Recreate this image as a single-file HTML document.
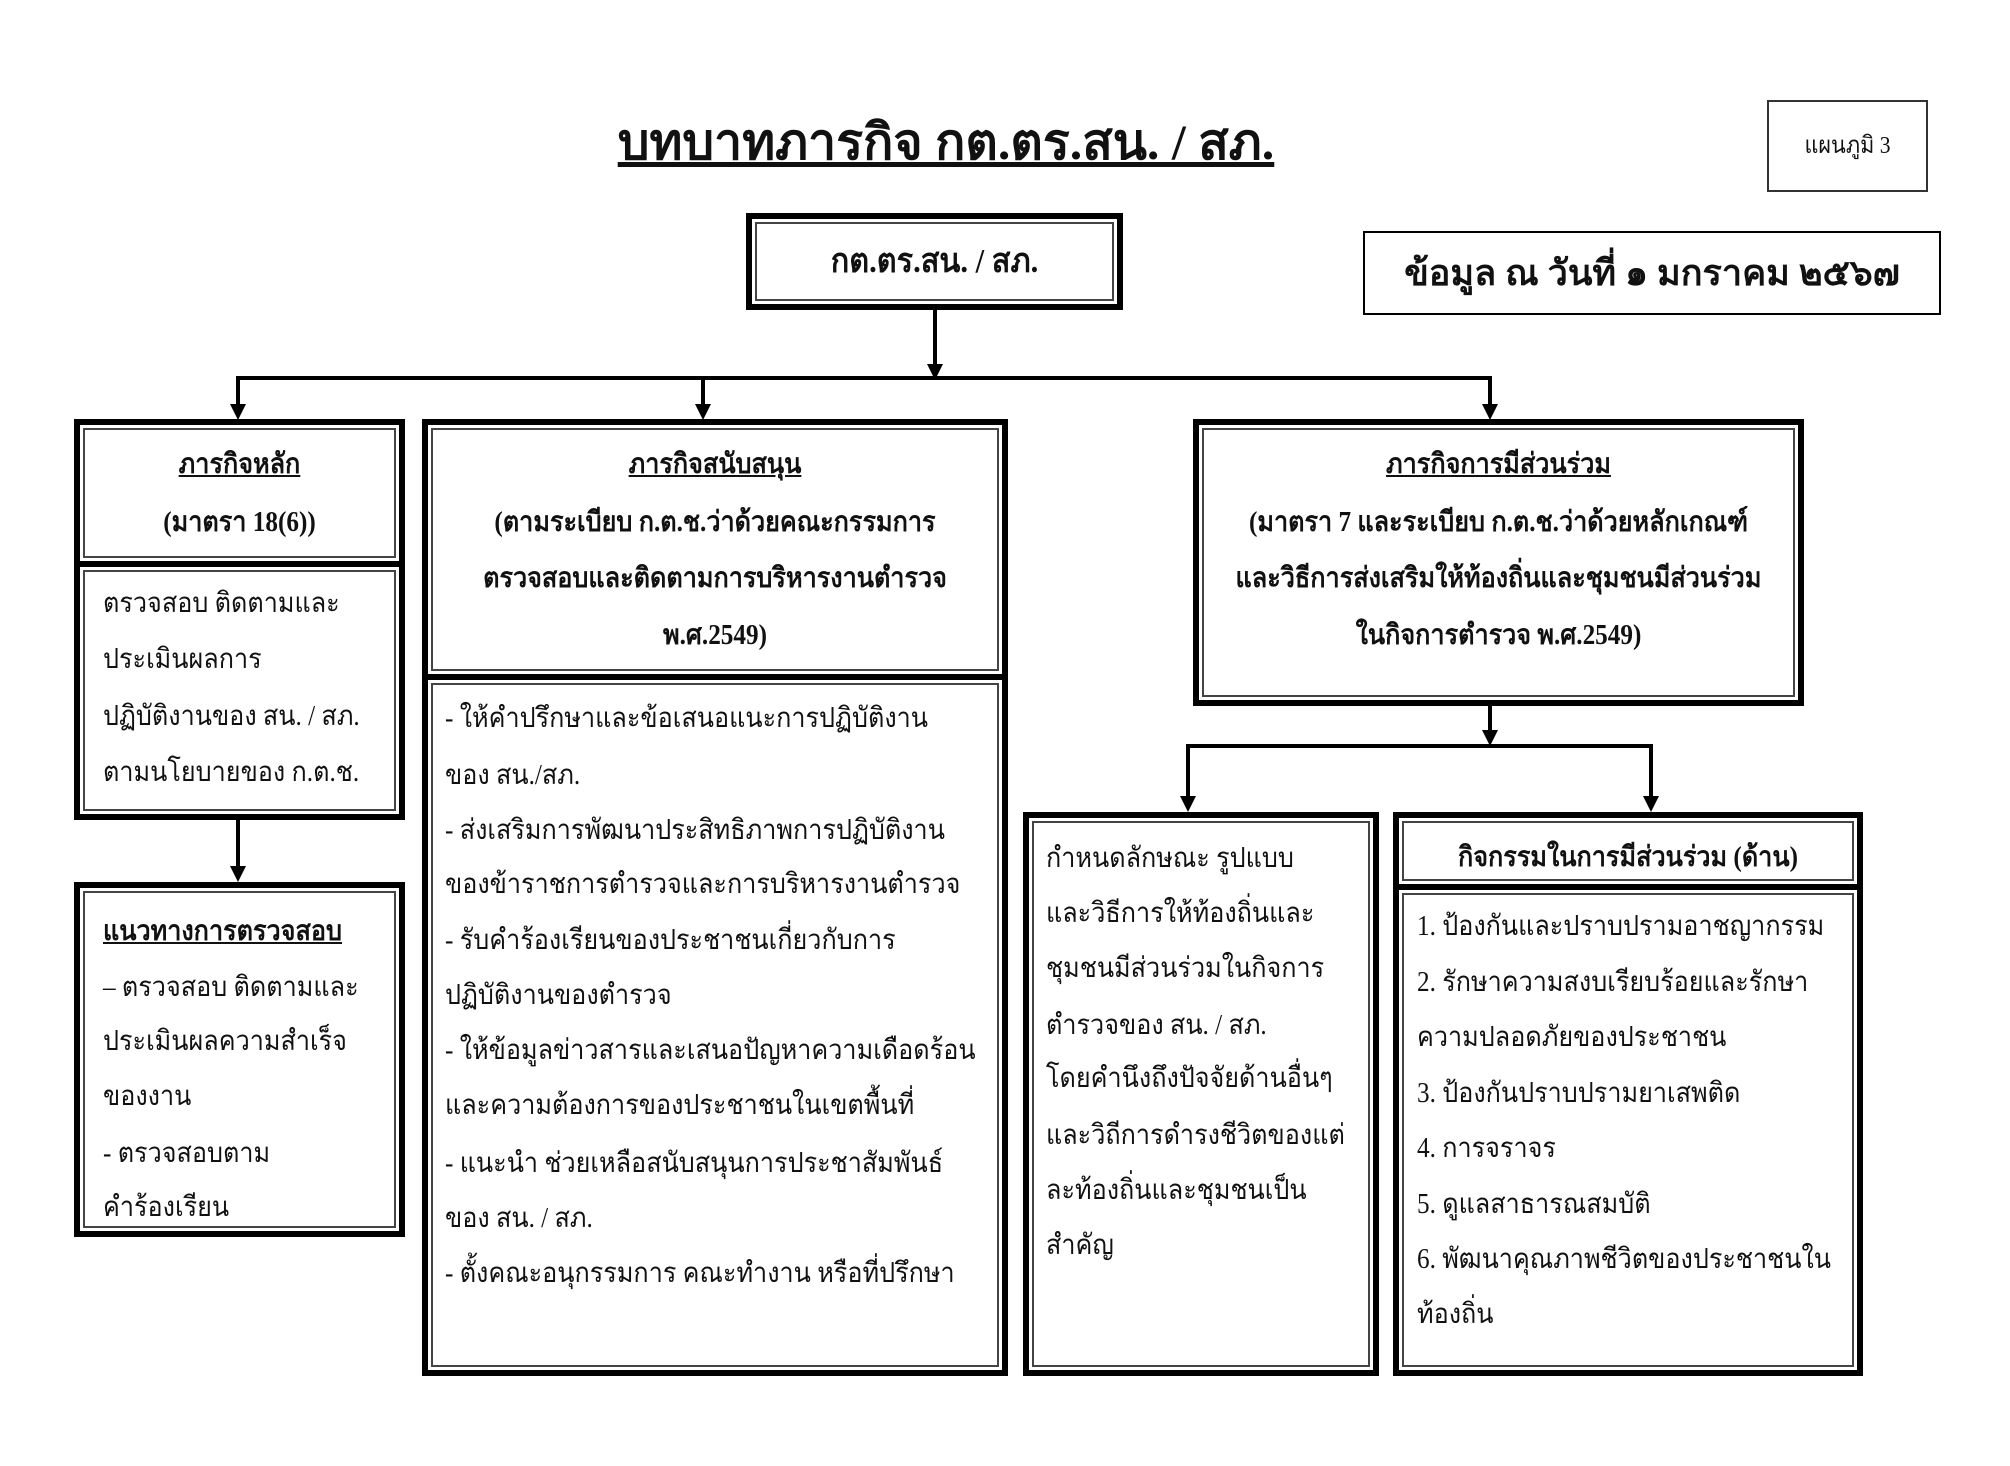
<!DOCTYPE html>
<html><head><meta charset="utf-8">
<style>
html,body{margin:0;padding:0;background:#fff;}
body{width:2010px;height:1466px;position:relative;overflow:hidden;font-family:"Liberation Serif","DejaVu Sans",serif;color:#111;}
.b{position:absolute;box-sizing:border-box;border:6px solid #000;box-shadow:inset 0 0 0 3px #fff,inset 0 0 0 5px #444;background:#fff;}
.t{position:absolute;white-space:nowrap;font-size:28px;line-height:56px;height:56px;transform:scaleX(0.9);transform-origin:left center;}
.c{text-align:center;transform-origin:center center;}
.bold{font-weight:bold;}
.u{text-decoration:underline;}
.l{position:absolute;background:#000;}
.ah{position:absolute;width:0;height:0;border-left:8px solid transparent;border-right:8px solid transparent;border-top:16px solid #000;}
</style></head><body>

<div class="t c bold u" style="left:446px;width:1000px;top:110px;font-size:50px;line-height:64px;height:64px;transform:none;">บทบาทภารกิจ กต.ตร.สน. / สภ.</div>

<div style="position:absolute;left:1767px;top:100px;width:161px;height:92px;border:2px solid #333;box-sizing:border-box;"></div>
<div class="t c" style="left:1767px;width:161px;top:118px;font-size:24px;">แผนภูมิ 3</div>

<div style="position:absolute;left:1363px;top:231px;width:578px;height:84px;border:2px solid #000;box-sizing:border-box;"></div>
<div class="t c bold" style="left:1363px;width:578px;top:245px;font-size:36px;transform:none;">ข้อมูล ณ วันที่ ๑ มกราคม ๒๕๖๗</div>

<div class="b" style="left:746px;top:213px;width:377px;height:97px;"></div>
<div class="t c bold" style="left:746px;width:377px;top:234px;font-size:34px;">กต.ตร.สน. / สภ.</div>

<!-- connectors -->
<div class="l" style="left:933px;top:310px;width:4px;height:58px;"></div>
<div class="ah" style="left:927px;top:364px;"></div>
<div class="l" style="left:236px;top:376px;width:1256px;height:4px;"></div>
<div class="l" style="left:236px;top:376px;width:4px;height:30px;"></div>
<div class="ah" style="left:230px;top:404px;"></div>
<div class="l" style="left:701px;top:376px;width:4px;height:30px;"></div>
<div class="ah" style="left:695px;top:404px;"></div>
<div class="l" style="left:1488px;top:376px;width:4px;height:30px;"></div>
<div class="ah" style="left:1482px;top:404px;"></div>

<div class="l" style="left:236px;top:820px;width:4px;height:48px;"></div>
<div class="ah" style="left:230px;top:866px;"></div>

<div class="l" style="left:1488px;top:706px;width:4px;height:30px;"></div>
<div class="ah" style="left:1482px;top:730px;"></div>
<div class="l" style="left:1186px;top:744px;width:467px;height:4px;"></div>
<div class="l" style="left:1186px;top:744px;width:4px;height:54px;"></div>
<div class="ah" style="left:1180px;top:796px;"></div>
<div class="l" style="left:1649px;top:744px;width:4px;height:54px;"></div>
<div class="ah" style="left:1643px;top:796px;"></div>

<!-- box1 -->
<div class="b" style="left:74px;top:419px;width:331px;height:148px;"></div>
<div class="b" style="left:74px;top:561px;width:331px;height:259px;"></div>
<div class="t c bold u" style="left:74px;width:331px;top:437px;">ภารกิจหลัก</div>
<div class="t c bold" style="left:74px;width:331px;top:495px;">(มาตรา 18(6))</div>
<div class="t" style="left:103px;top:576px;">ตรวจสอบ ติดตามและ</div>
<div class="t" style="left:103px;top:632px;">ประเมินผลการ</div>
<div class="t" style="left:103px;top:689px;">ปฏิบัติงานของ สน. / สภ.</div>
<div class="t" style="left:103px;top:745px;">ตามนโยบายของ ก.ต.ช.</div>

<div class="b" style="left:74px;top:882px;width:331px;height:355px;"></div>
<div class="t bold u" style="left:103px;top:904px;">แนวทางการตรวจสอบ</div>
<div class="t" style="left:103px;top:960px;">– ตรวจสอบ ติดตามและ</div>
<div class="t" style="left:103px;top:1014px;">ประเมินผลความสำเร็จ</div>
<div class="t" style="left:103px;top:1069px;">ของงาน</div>
<div class="t" style="left:103px;top:1126px;">- ตรวจสอบตาม</div>
<div class="t" style="left:103px;top:1180px;">คำร้องเรียน</div>

<!-- box2 -->
<div class="b" style="left:422px;top:419px;width:586px;height:261px;"></div>
<div class="b" style="left:422px;top:674px;width:586px;height:702px;"></div>
<div class="t c bold u" style="left:422px;width:586px;top:437px;">ภารกิจสนับสนุน</div>
<div class="t c bold" style="left:422px;width:586px;top:495px;">(ตามระเบียบ ก.ต.ช.ว่าด้วยคณะกรรมการ</div>
<div class="t c bold" style="left:422px;width:586px;top:551px;">ตรวจสอบและติดตามการบริหารงานตำรวจ</div>
<div class="t c bold" style="left:422px;width:586px;top:608px;">พ.ศ.2549)</div>
<div class="t" style="left:445px;top:691px;">- ให้คำปรึกษาและข้อเสนอแนะการปฏิบัติงาน</div>
<div class="t" style="left:445px;top:748px;">ของ สน./สภ.</div>
<div class="t" style="left:445px;top:803px;">- ส่งเสริมการพัฒนาประสิทธิภาพการปฏิบัติงาน</div>
<div class="t" style="left:445px;top:857px;">ของข้าราชการตำรวจและการบริหารงานตำรวจ</div>
<div class="t" style="left:445px;top:913px;">- รับคำร้องเรียนของประชาชนเกี่ยวกับการ</div>
<div class="t" style="left:445px;top:968px;">ปฏิบัติงานของตำรวจ</div>
<div class="t" style="left:445px;top:1023px;">- ให้ข้อมูลข่าวสารและเสนอปัญหาความเดือดร้อน</div>
<div class="t" style="left:445px;top:1078px;">และความต้องการของประชาชนในเขตพื้นที่</div>
<div class="t" style="left:445px;top:1136px;">- แนะนำ ช่วยเหลือสนับสนุนการประชาสัมพันธ์</div>
<div class="t" style="left:445px;top:1191px;">ของ สน. / สภ.</div>
<div class="t" style="left:445px;top:1246px;">- ตั้งคณะอนุกรรมการ คณะทำงาน หรือที่ปรึกษา</div>

<!-- box3 -->
<div class="b" style="left:1193px;top:419px;width:611px;height:287px;"></div>
<div class="t c bold u" style="left:1193px;width:611px;top:437px;">ภารกิจการมีส่วนร่วม</div>
<div class="t c bold" style="left:1193px;width:611px;top:495px;">(มาตรา 7 และระเบียบ ก.ต.ช.ว่าด้วยหลักเกณฑ์</div>
<div class="t c bold" style="left:1193px;width:611px;top:551px;">และวิธีการส่งเสริมให้ท้องถิ่นและชุมชนมีส่วนร่วม</div>
<div class="t c bold" style="left:1193px;width:611px;top:608px;">ในกิจการตำรวจ พ.ศ.2549)</div>

<!-- box4 -->
<div class="b" style="left:1023px;top:812px;width:356px;height:564px;"></div>
<div class="t" style="left:1046px;top:831px;">กำหนดลักษณะ รูปแบบ</div>
<div class="t" style="left:1046px;top:886px;">และวิธีการให้ท้องถิ่นและ</div>
<div class="t" style="left:1046px;top:941px;">ชุมชนมีส่วนร่วมในกิจการ</div>
<div class="t" style="left:1046px;top:998px;">ตำรวจของ สน. / สภ.</div>
<div class="t" style="left:1046px;top:1051px;">โดยคำนึงถึงปัจจัยด้านอื่นๆ</div>
<div class="t" style="left:1046px;top:1108px;">และวิถีการดำรงชีวิตของแต่</div>
<div class="t" style="left:1046px;top:1163px;">ละท้องถิ่นและชุมชนเป็น</div>
<div class="t" style="left:1046px;top:1218px;">สำคัญ</div>

<!-- box5 -->
<div class="b" style="left:1393px;top:812px;width:470px;height:78px;"></div>
<div class="b" style="left:1393px;top:884px;width:470px;height:492px;"></div>
<div class="t c bold" style="left:1393px;width:470px;top:830px;">กิจกรรมในการมีส่วนร่วม (ด้าน)</div>
<div class="t" style="left:1417px;top:899px;">1. ป้องกันและปราบปรามอาชญากรรม</div>
<div class="t" style="left:1417px;top:955px;">2. รักษาความสงบเรียบร้อยและรักษา</div>
<div class="t" style="left:1417px;top:1010px;">ความปลอดภัยของประชาชน</div>
<div class="t" style="left:1417px;top:1066px;">3. ป้องกันปราบปรามยาเสพติด</div>
<div class="t" style="left:1417px;top:1121px;">4. การจราจร</div>
<div class="t" style="left:1417px;top:1177px;">5. ดูแลสาธารณสมบัติ</div>
<div class="t" style="left:1417px;top:1232px;">6. พัฒนาคุณภาพชีวิตของประชาชนใน</div>
<div class="t" style="left:1417px;top:1287px;">ท้องถิ่น</div>

</body></html>
